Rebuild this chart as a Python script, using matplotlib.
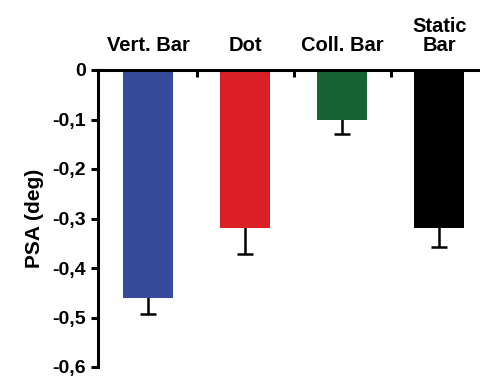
import matplotlib as mpl

mpl.use("Agg")

import matplotlib.pyplot as plt
import numpy as np

categories = ["Vert. Bar", "Dot", "Coll. Bar", "Static\nBar"]
psa_means = [-0.46, -0.32, -0.10, -0.32]
psa_errors = [0.033, 0.051, 0.03, 0.037]
bar_colors = ["#374A9C", "#DA1F26", "#176334", "#000000"]
y_ticks = [0, -0.1, -0.2, -0.3, -0.4, -0.5, -0.6]
y_tick_labels = ["0", "-0,1", "-0,2", "-0,3", "-0,4", "-0,5", "-0,6"]

plt.rcParams["font.family"] = ["Liberation Sans", "DejaVu Sans"]
plt.rcParams["font.weight"] = "bold"

fig = plt.figure(figsize=(4.8, 3.76), dpi=100)
ax = fig.add_axes([98 / 480, 1 - 367 / 376, 1 - 98 / 480, (367 - 70) / 376])

x = np.arange(len(categories))
# error bars sit behind the bars so only the lower half shows
ax.errorbar(
    x,
    psa_means,
    yerr=psa_errors,
    fmt="none",
    ecolor="black",
    elinewidth=1.8,
    capsize=6,
    capthick=1.8,
    zorder=1,
)
ax.bar(x, psa_means, width=0.52, color=bar_colors, zorder=2)

ax.set_xlim(-0.515, 3.42)
ax.set_ylim(-0.6, 0)

ax.spines["bottom"].set_visible(False)
ax.spines["right"].set_visible(False)
ax.spines["top"].set_linewidth(2.2)
ax.spines["left"].set_linewidth(2.2)
ax.spines["top"].set_zorder(3)

ax.xaxis.tick_top()
ax.set_xticks(x)
ax.set_xticklabels(categories, fontsize=14.5, fontweight="bold", linespacing=1.0)
ax.set_xticks([0.5, 1.5, 2.5], minor=True)
ax.tick_params(axis="x", which="major", length=0, pad=11)
ax.tick_params(axis="x", which="minor", direction="in", length=5, width=2.2)

ax.set_yticks(y_ticks)
ax.set_yticklabels(y_tick_labels, fontsize=14, fontweight="bold")
ax.tick_params(axis="y", direction="out", length=5, width=2.2, pad=4)
ax.set_ylabel("PSA (deg)", fontsize=15, fontweight="bold", labelpad=6)

fig.savefig("out.png", dpi=100)
